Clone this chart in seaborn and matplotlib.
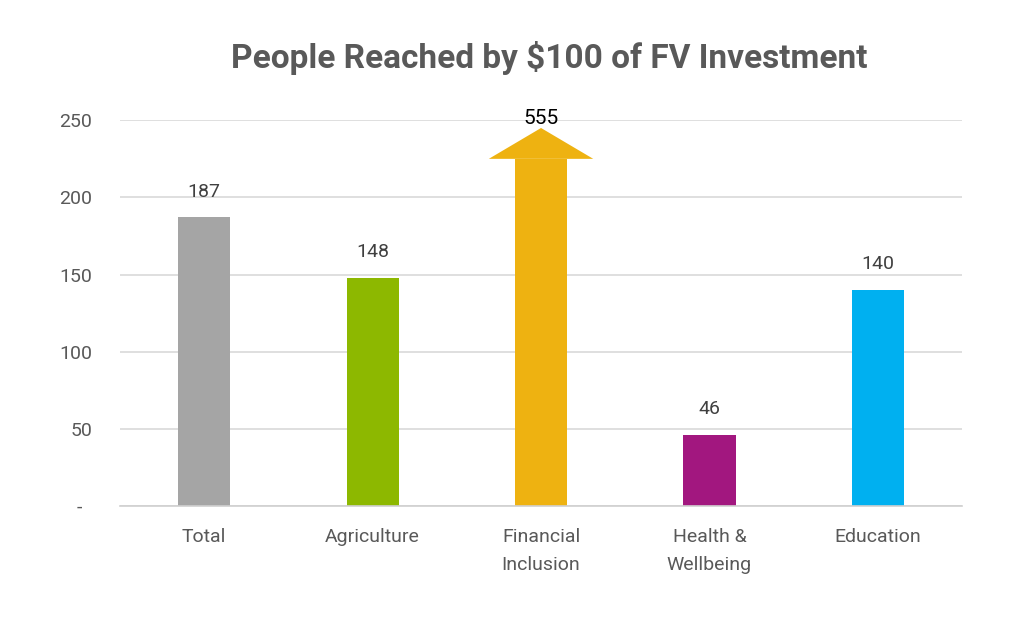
import matplotlib
matplotlib.use("Agg")
import matplotlib.pyplot as plt
from matplotlib.patches import Polygon
import pandas as pd
import seaborn as sns

# chart data
categories = ["Total", "Agriculture", "Financial\nInclusion", "Health &\nWellbeing", "Education"]
values = [187, 148, 555, 46, 140]
colors = ["#A5A5A5", "#8DB800", "#EEB211", "#A2177F", "#00B0F0"]
yticks = [0, 50, 100, 150, 200, 250]
ytick_labels = ["-  ", "50", "100", "150", "200", "250"]
title = "People Reached by $100 of FV Investment"

# the axis stops at 250, anything above is drawn as an arrow
y_max = 250
shaft_top = 225
head_top = 245

df = pd.DataFrame({"category": categories, "value": values})
df["shown"] = df["value"].clip(upper=shaft_top)
df.loc[df["value"] <= y_max, "shown"] = df["value"]

sns.set_theme(style="white")
plt.rcParams["font.family"] = ["Roboto", "DejaVu Sans"]

fig = plt.figure(figsize=(10.24, 6.31), dpi=100)
ax = fig.add_axes([0.1172, 0.1981, 0.8223, 0.6113])

sns.barplot(data=df, x="category", y="shown", hue="category", palette=colors,
            width=0.31, legend=False, saturation=1, linewidth=0, ax=ax)

ax.set_ylim(0, y_max)
ax.set_yticks(yticks)
ax.set_yticklabels(ytick_labels)
ax.set_xlabel("")
ax.set_ylabel("")
ax.yaxis.grid(True, color="#D9D9D9", linewidth=1.2)
ax.set_axisbelow(True)
for s in ["top", "right", "left"]:
    ax.spines[s].set_visible(False)
ax.spines["bottom"].set_color("#D0D0D0")
ax.spines["bottom"].set_linewidth(1.2)
ax.tick_params(axis="both", length=0, colors="#595959", labelsize=14)
ax.tick_params(axis="y", pad=20)
ax.tick_params(axis="x", pad=16)
for lab in ax.get_xticklabels():
    lab.set_linespacing(1.7)

# labels and the arrow head for the off-scale bar
for bar, val, col in zip(ax.patches, values, colors):
    cx = bar.get_x() + bar.get_width() / 2
    if val > y_max:
        w = bar.get_width()
        head = Polygon([[cx - w, shaft_top], [cx + w, shaft_top], [cx, head_top]],
                       closed=True, facecolor=col, edgecolor="none", clip_on=False)
        ax.add_patch(head)
        ax.annotate(f"{val}", (cx, head_top), xytext=(0, 0), textcoords="offset points",
                    ha="center", va="bottom", fontsize=15, color="#000000",
                    annotation_clip=False)
    else:
        ax.annotate(f"{val}", (cx, bar.get_height()), xytext=(0, 12), textcoords="offset points",
                    ha="center", va="bottom", fontsize=14, color="#404040")

fig.suptitle(title, x=0.536, y=0.935, fontsize=24, fontweight="bold", color="#595959")

fig.savefig("out.png", dpi=100, facecolor="white")
